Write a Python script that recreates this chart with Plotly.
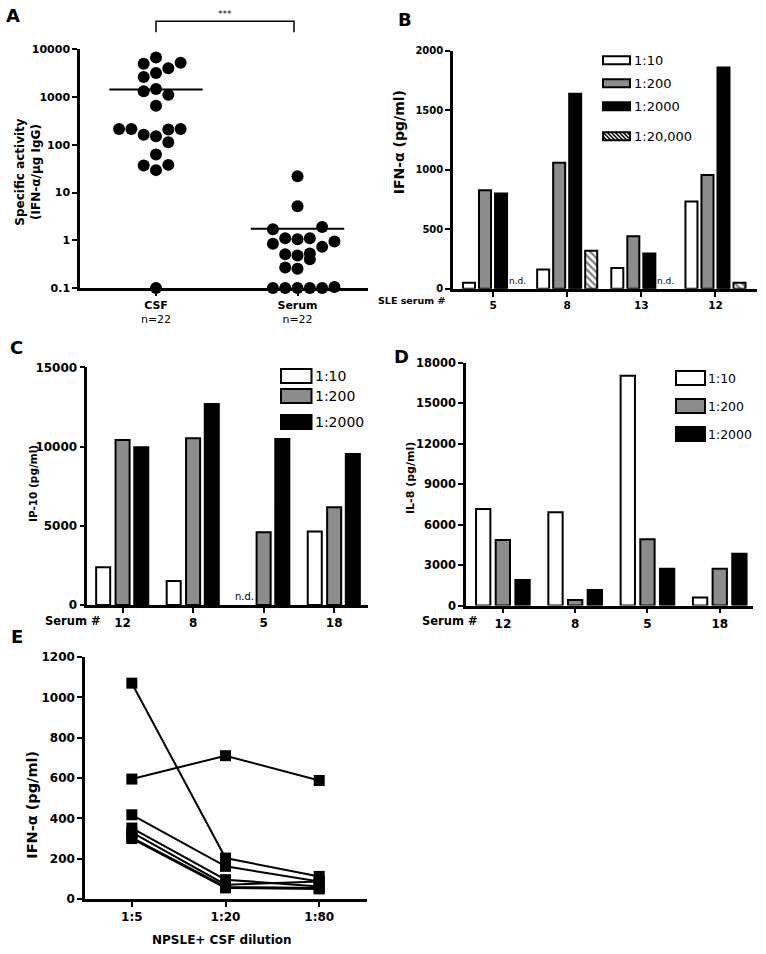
import plotly.graph_objects as go

W, H = 766, 954
FONT = "DejaVu Sans"

# ---------------- DATA ----------------
# Panel A: specific activity (log scale)
a_groups = ["CSF", "Serum"]
a_counts = ["n=22", "n=22"]
a_ticks = [0.1, 1, 10, 100, 1000, 10000]
csf_values = [6700, 5000, 5200, 2630, 3200, 4000, 1320, 1480, 1110, 660, 215, 215,
              162, 151, 210, 215, 113, 63, 37, 38, 29.5, 0.1]
csf_jitter = [0, -1, 2, -1, 0, 1, -1, 0, 1, 0, -3, -2, -1, 0, 1, 2, 1, 0, -1, 1, 0, 0]
serum_values = [22, 5.2, 1.7, 1.9, 0.85, 1.1, 1.05, 1.1, 0.95, 0.73, 0.51, 0.48,
                0.53, 0.40, 0.27, 0.255, 0.1, 0.1, 0.1, 0.1, 0.1, 0.105]
serum_jitter = [0, 0, -2, 2, -2, -1, 0, 1, 3, 2, -1, 0, 1, 1, -1, 0, -2, -1, 0, 1, 2, 3]
csf_mean = 1430
serum_mean = 1.75

# Panel B: IFN-alpha (pg/ml), SLE serum dilutions
b_groups = ["5", "8", "13", "12"]
b_names = ["1:10", "1:200", "1:2000", "1:20,000"]
b_1_10 = [50, 162, 176, 734]
b_1_200 = [829, 1059, 443, 958]
b_1_2000 = [801, 1641, 297, 1860]
b_1_20000 = [None, 319, None, 50]
b_ticks = [0, 500, 1000, 1500, 2000]

# Panel C: IP-10 (pg/ml)
c_groups = ["12", "8", "5", "18"]
c_names = ["1:10", "1:200", "1:2000"]
c_1_10 = [2377, 1515, None, 4629]
c_1_200 = [10414, 10520, 4587, 6165]
c_1_2000 = [9952, 12687, 10478, 9531]
c_ticks = [0, 5000, 10000, 15000]

# Panel D: IL-8 (pg/ml)
d_groups = ["12", "8", "5", "18"]
d_names = ["1:10", "1:200", "1:2000"]
d_1_10 = [7160, 6914, 17037, 593]
d_1_200 = [4864, 420, 4913, 2740]
d_1_2000 = [1901, 1160, 2740, 3852]
d_ticks = [0, 3000, 6000, 9000, 12000, 15000, 18000]

# Panel E: IFN-alpha vs NPSLE+ CSF dilution
e_dilutions = ["1:5", "1:20", "1:80"]
e_patient1 = [1071, 203, 112]
e_patient2 = [595, 711, 588]
e_patient3 = [418, 162, 87]
e_patient4 = [352, 96, 62]
e_patient5 = [330, 71, 87]
e_patient6 = [305, 60, 55]
e_patient7 = [300, 55, 50]
e_ticks = [0, 200, 400, 600, 800, 1000, 1200]


# ---------------- helpers ----------------
def X(p):
    return p / W


def Y(p):
    # slight vertical correction so the rendered page lines up with the target
    q = (p - 6.7) / 0.986
    return 1 - q / H


def axis(domain, anchor, tsize, **kw):
    d = dict(domain=domain, anchor=anchor, showline=True, linecolor="black",
             linewidth=2.5, ticks="outside", ticklen=5, tickwidth=2,
             tickcolor="black", showgrid=False, zeroline=False,
             tickfont=dict(family=FONT, size=tsize, color="black", weight="bold"))
    d.update(kw)
    return d


fig = go.Figure()
annotations = []
shapes = []


def text(x, y, s, size, bold=True, angle=0, xanchor="center", yanchor="middle"):
    annotations.append(dict(x=X(x), y=Y(y), xref="paper", yref="paper", text=s,
                            showarrow=False, textangle=angle, xanchor=xanchor,
                            yanchor=yanchor,
                            font=dict(family=FONT, size=size, color="black",
                                      weight="bold" if bold else "normal")))


# ---------------- Panel A ----------------
step = 0.087
fig.add_trace(go.Scatter(
    x=[0 + j * step for j in csf_jitter], y=csf_values, mode="markers",
    marker=dict(color="black", size=12), cliponaxis=False, showlegend=False,
    xaxis="x", yaxis="y"))
fig.add_trace(go.Scatter(
    x=[1 + j * step for j in serum_jitter], y=serum_values, mode="markers",
    marker=dict(color="black", size=12), cliponaxis=False, showlegend=False,
    xaxis="x", yaxis="y"))
fig.add_trace(go.Scatter(x=[-0.33, 0.33], y=[csf_mean, csf_mean], mode="lines",
                         line=dict(color="black", width=2), showlegend=False,
                         xaxis="x", yaxis="y"))
fig.add_trace(go.Scatter(x=[1 - 0.33, 1 + 0.33], y=[serum_mean, serum_mean], mode="lines",
                         line=dict(color="black", width=2), showlegend=False,
                         xaxis="x", yaxis="y"))

# ---------------- bar helper ----------------
def bars(groups, series, fills, width, centers, xa, ya, nd_size=9):
    for vals, fill, c in zip(series, fills, centers):
        marker = dict(color=fill if fill != "hatch" else "white",
                      line=dict(color="black", width=2))
        if fill == "hatch":
            marker["pattern"] = dict(shape="\\", fgcolor="black", bgcolor="white",
                                     size=5, solidity=0.45)
        fig.add_trace(go.Bar(x=groups, y=vals, width=width, offset=c - width / 2,
                             marker=marker, showlegend=False, xaxis=xa, yaxis=ya,
                             cliponaxis=False))
        for i, v in enumerate(vals):
            if v is None:
                annotations.append(dict(x=i + c, y=0, xref=xa, yref=ya, text="n.d.",
                                        showarrow=False, yanchor="bottom", yshift=1,
                                        font=dict(family=FONT, size=nd_size, color="black")))


bars(b_groups, [b_1_10, b_1_200, b_1_2000, b_1_20000],
     ["white", "#8c8c8c", "black", "hatch"], 0.162,
     [-0.324, -0.108, 0.108, 0.324], "x2", "y2")
bars(c_groups, [c_1_10, c_1_200, c_1_2000],
     ["white", "#8c8c8c", "black"], 0.199, [-0.275, 0, 0.265], "x3", "y3", nd_size=10)
bars(d_groups, [d_1_10, d_1_200, d_1_2000],
     ["white", "#8c8c8c", "black"], 0.198, [-0.272, 0, 0.272], "x4", "y4")

# ---------------- Panel E ----------------
for s in [e_patient1, e_patient2, e_patient3, e_patient4, e_patient5, e_patient6, e_patient7]:
    fig.add_trace(go.Scatter(x=e_dilutions, y=s, mode="lines+markers",
                             line=dict(color="black", width=2),
                             marker=dict(symbol="square", size=11, color="black"),
                             cliponaxis=False, showlegend=False, xaxis="x5", yaxis="y5"))

# ---------------- layout / axes ----------------
layout = dict(
    width=W, height=H, margin=dict(l=0, r=0, t=0, b=0),
    paper_bgcolor="white", plot_bgcolor="white", showlegend=False,
    xaxis=axis([X(80), X(368)], "y", 11, range=[-0.537, 1.498],
               tickvals=[0, 1],
               ticktext=[f"<b>{g}</b><br>{n}" for g, n in zip(a_groups, a_counts)],
               tickfont=dict(family=FONT, size=11, color="black", weight="normal")),
    yaxis=axis([Y(288), Y(49)], "x", 11, type="log", range=[-1, 4],
               tickvals=a_ticks, ticktext=[str(t) for t in a_ticks]),
    xaxis2=axis([X(453), X(757)], "y2", 10.5, type="category", range=[-0.54, 3.56]),
    yaxis2=axis([Y(288.7), Y(50.7)], "x2", 10, range=[0, 2000], tickvals=b_ticks,
                tickformat="d"),
    xaxis3=axis([X(87.3), X(368)], "y3", 12, type="category", range=[-0.50, 3.48]),
    yaxis3=axis([Y(605), Y(367.3)], "x3", 12, range=[0, 15000], tickvals=c_ticks,
                tickformat="d"),
    xaxis4=axis([X(466), X(753)], "y4", 12, type="category", range=[-0.51, 3.46]),
    yaxis4=axis([Y(605.7), Y(362.7)], "x4", 11.5, range=[0, 18000], tickvals=d_ticks,
                tickformat="d"),
    xaxis5=axis([X(85), X(367)], "y5", 12, type="category", range=[-0.5, 2.51]),
    yaxis5=axis([Y(899.3), Y(657.3)], "x5", 12, range=[0, 1200], tickvals=e_ticks,
                tickformat="d"),
)

# panel letters
text(13, 15, "A", 18)
text(405, 19, "B", 18)
text(16, 347, "C", 18)
text(401, 356, "D", 18)
text(17, 637, "E", 18)

# axis titles
text(28.5, 172, "Specific activity<br>(IFN-α/μg IgG)", 12, angle=-90)
text(399, 142, "IFN-α (pg/ml)", 14, angle=-90)
text(33, 484, "IP-10 (pg/ml)", 10.5, angle=-90)
text(411, 478, "IL-8 (pg/ml)", 11, angle=-90)
text(32, 805, "IFN-α (pg/ml)", 14.5, angle=-90)
text(222, 940, "NPSLE+ CSF dilution", 12)
text(447, 300, "SLE serum #", 9.5, xanchor="right")
text(103, 621, "Serum #", 11.5, xanchor="right")
text(480, 621, "Serum #", 11.5, xanchor="right")

# significance bracket
shapes.append(dict(type="path", xref="paper", yref="paper",
                   path=f"M {X(156)} {Y(32)} L {X(156)} {Y(21)} L {X(294)} {Y(21)} L {X(294)} {Y(32)}",
                   line=dict(color="black", width=1.5)))
text(225, 14, "***", 9, bold=False)


# custom legends
def legend(x0, x1, centers, h, names, fills, size, text_x):
    for yc, nm, fill in zip(centers, names, fills):
        y0, y1 = yc - h / 2, yc + h / 2
        shapes.append(dict(type="rect", xref="paper", yref="paper",
                           x0=X(x0), x1=X(x1), y0=Y(y1), y1=Y(y0),
                           fillcolor=("white" if fill == "hatch" else fill),
                           line=dict(color="black", width=2)))
        if fill == "hatch":
            segs = []
            s = x0 - h
            while s < x1:
                ax, ay, bx, by = s, y0, s + h, y1
                if ax < x0:
                    ay += (x0 - ax); ax = x0
                if bx > x1:
                    by -= (bx - x1); bx = x1
                if bx > ax:
                    segs.append(f"M {X(ax)} {Y(ay)} L {X(bx)} {Y(by)}")
                s += 4
            shapes.append(dict(type="path", xref="paper", yref="paper",
                               path=" ".join(segs), line=dict(color="black", width=1.5)))
        text(text_x, yc, nm, size, bold=False, xanchor="left")


legend(603, 630, [60, 83, 106, 136], 8, b_names, ["white", "#8c8c8c", "black", "hatch"], 13, 631.5)
legend(281, 311.5, [376, 396, 422], 14, c_names, ["white", "#8c8c8c", "black"], 14, 313)
legend(676, 705, [378, 406, 434], 14, d_names, ["white", "#8c8c8c", "black"], 12.5, 706)

layout["annotations"] = annotations
layout["shapes"] = shapes
fig.update_layout(**layout)
fig.write_html(
    "out.html",
    config={"displayModeBar": False},
    post_script=(
        "document.documentElement.style.margin='0';"
        "document.documentElement.style.padding='0';"
        "document.body.style.margin='0';"
        "document.body.style.padding='0';"
        "document.body.style.overflow='hidden';"
        "var gd=document.getElementById('{plot_id}');"
        "gd.style.position='absolute';gd.style.left='0px';gd.style.top='0px';"
    ),
)
